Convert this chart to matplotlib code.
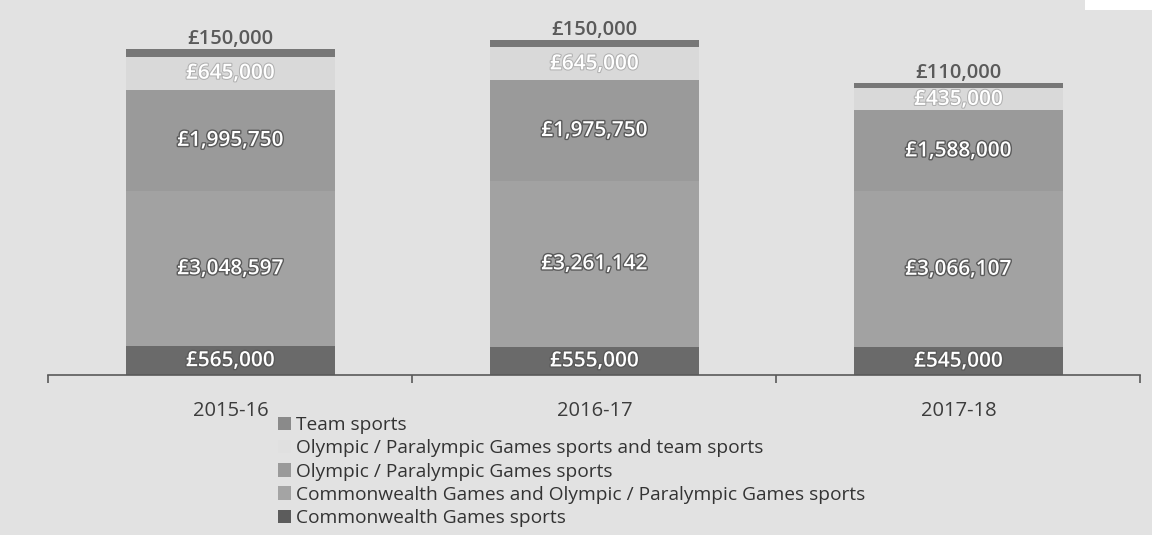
import matplotlib.pyplot as plt
import matplotlib.patheffects as pe
from matplotlib.patches import Rectangle
import numpy as np

years = ["2015-16", "2016-17", "2017-18"]

commonwealth = [565000, 555000, 545000]
commonwealth_olympic = [3048597, 3261142, 3066107]
olympic = [1995750, 1975750, 1588000]
olympic_team = [645000, 645000, 435000]
team = [150000, 150000, 110000]

series_names = [
    "Commonwealth Games sports",
    "Commonwealth Games and Olympic / Paralympic Games sports",
    "Olympic / Paralympic Games sports",
    "Olympic / Paralympic Games sports and team sports",
    "Team sports",
]
series = [commonwealth, commonwealth_olympic, olympic, olympic_team, team]
colours = ["#6a6a6a", "#a2a2a2", "#9a9a9a", "#d9d9d9", "#777777"]
legend_colours = ["#5c5c5c", "#a4a4a4", "#9a9a9a", "#e0e0e0", "#8a8a8a"]

bg = "#e2e2e2"
plt.rcParams["font.family"] = ["Open Sans", "DejaVu Sans"]

fig = plt.figure(figsize=(11.52, 5.35), dpi=100, facecolor=bg)
ax = fig.add_axes([0.042, 0.299, 0.948, 0.701])
ax.set_facecolor(bg)

x = np.arange(len(years))
bottom = np.zeros(len(years))
dark_edge = [pe.withStroke(linewidth=2, foreground="#5a5a5a")]
light_edge = [pe.withStroke(linewidth=1.5, foreground="#b0b0b0")]
for i, (vals, col) in enumerate(zip(series, colours)):
    vals = np.array(vals, dtype=float)
    ax.bar(x, vals, 0.574, bottom=bottom, color=col, linewidth=0)
    for xi, b, v in zip(x, bottom, vals):
        label = f"£{int(v):,}"
        if i == len(series) - 1:
            # top band: label sits above the thin bar
            ax.annotate(label, (xi, b + v), xytext=(0, 0), textcoords="offset points",
                        ha="center", va="bottom", fontsize=14.5, fontweight="semibold",
                        color="#5a5a5a")
        else:
            fx = light_edge if i == 3 else dark_edge
            ax.text(xi, b + v / 2, label, ha="center", va="center", fontsize=15,
                    fontweight="semibold", color="white", path_effects=fx)
    bottom += vals

ax.set_xlim(-0.5, 2.5)
ax.set_ylim(0, 7.37e6)
ax.set_yticks([])
for s in ["top", "right", "left"]:
    ax.spines[s].set_visible(False)
ax.spines["bottom"].set_color("#5a5a5a")
ax.spines["bottom"].set_linewidth(1.2)

ax.set_xticks([-0.5, 0.5, 1.5, 2.5], minor=False)
ax.set_xticklabels([])
ax.tick_params(axis="x", which="major", length=6, width=1.2, color="#5a5a5a")
ax.set_xticks(x, minor=True)
ax.set_xticklabels(years, minor=True, fontsize=14.5, color="#3c3c3c")
ax.tick_params(axis="x", which="minor", length=0, pad=19)

handles = [Rectangle((0, 0), 1, 1, facecolor=c, edgecolor="none") for c in legend_colours[::-1]]
fig.legend(handles, series_names[::-1], loc="upper left",
           bbox_to_anchor=(0.241, 0.222), frameon=False, fontsize=13.8,
           handlelength=0.7, handleheight=0.7, handletextpad=0.25,
           labelspacing=0.27, borderpad=0, borderaxespad=0,
           labelcolor="#333333")

# white corner patch at top right
fig.patches.append(Rectangle((0.942, 0.982), 0.058, 0.018, transform=fig.transFigure,
                             facecolor="white", edgecolor="none"))

fig.savefig("out.png", dpi=100, facecolor=bg)
